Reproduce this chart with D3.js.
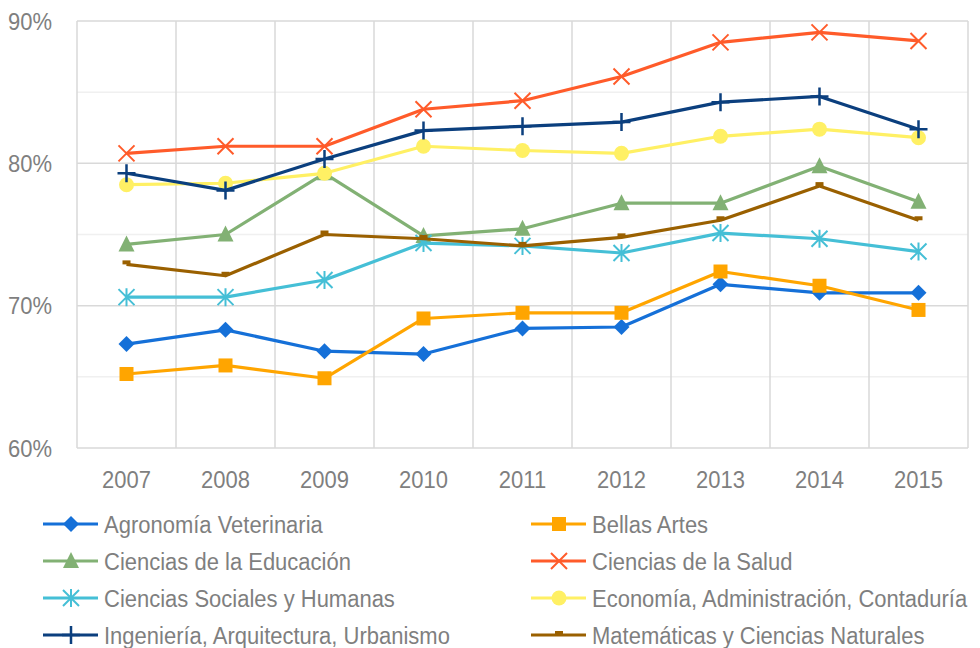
<!DOCTYPE html>
<html>
<head>
<meta charset="utf-8">
<script src="https://cdn.jsdelivr.net/npm/d3@7"></script>
<style>
  body { margin: 0; background: #fff; }
  text { font-family: "Liberation Sans", Arial, sans-serif; fill: #7f7f7f; }
</style>
</head>
<body>
<div id="chart"></div>
<script>
// years on the x axis
var years = ["2007", "2008", "2009", "2010", "2011", "2012", "2013", "2014", "2015"];

// one array per faculty (share, %)
var agronomia   = [67.3, 68.3, 66.8, 66.6, 68.4, 68.5, 71.5, 70.9, 70.9];
var bellasArtes = [65.2, 65.8, 64.9, 69.1, 69.5, 69.5, 72.4, 71.4, 69.7];
var educacion   = [74.3, 75.0, 79.3, 74.9, 75.4, 77.2, 77.2, 79.8, 77.3];
var salud       = [80.7, 81.2, 81.2, 83.8, 84.4, 86.1, 88.5, 89.2, 88.6];
var sociales    = [70.6, 70.6, 71.8, 74.4, 74.2, 73.7, 75.1, 74.7, 73.8];
var economia    = [78.5, 78.6, 79.3, 81.2, 80.9, 80.7, 81.9, 82.4, 81.8];
var ingenieria  = [79.3, 78.1, 80.3, 82.3, 82.6, 82.9, 84.3, 84.7, 82.4];
var matematicas = [72.9, 72.1, 75.0, 74.7, 74.2, 74.8, 76.0, 78.4, 76.0];

var seriesNames = ["Agronomía Veterinaria", "Bellas Artes", "Ciencias de la Educación", "Ciencias de la Salud",
  "Ciencias Sociales y Humanas", "Economía, Administración, Contaduría", "Ingeniería, Arquitectura, Urbanismo",
  "Matemáticas y Ciencias Naturales"];
var seriesValues = [agronomia, bellasArtes, educacion, salud, sociales, economia, ingenieria, matematicas];
var seriesColors = ["#1570d8", "#ffa500", "#82b174", "#ff5b2a", "#45bfd6", "#fff064", "#0b3f7e", "#9a6000"];
var seriesMarkers = ["diamond", "square", "triangle", "x", "star", "circle", "plus", "dash"];

var yTicks = [60, 70, 80, 90];
var yMinor = [65, 75, 85];

var width = 980, height = 648;
var plotLeft = 77, plotRight = 968, plotTop = 21, plotBottom = 448;

var svg = d3.select("#chart").append("svg")
  .attr("width", width)
  .attr("height", height);

var x = d3.scaleBand().domain(years).range([plotLeft, plotRight]);
var y = d3.scaleLinear().domain([60, 90]).range([plotBottom, plotTop]);

//Gridlines: minor first, then major and the category separators.
svg.append("g").selectAll("line").data(yMinor).enter().append("line")
  .attr("x1", plotLeft).attr("x2", plotRight)
  .attr("y1", function(d) { return y(d); }).attr("y2", function(d) { return y(d); })
  .attr("stroke", "#f0f0f0").attr("stroke-width", 1.5);

var sep = d3.range(years.length + 1).map(function(i) { return plotLeft + i * x.step(); });
svg.append("g").selectAll("line").data(sep).enter().append("line")
  .attr("x1", function(d) { return d; }).attr("x2", function(d) { return d; })
  .attr("y1", plotTop).attr("y2", plotBottom)
  .attr("stroke", "#d9d9d9").attr("stroke-width", 1.5);

svg.append("g").selectAll("line").data(yTicks).enter().append("line")
  .attr("x1", plotLeft).attr("x2", plotRight)
  .attr("y1", function(d) { return y(d); }).attr("y2", function(d) { return y(d); })
  .attr("stroke", "#d9d9d9").attr("stroke-width", 1.5);

//Text is slightly taller than wide in the original, so stretch it a bit.
function label(g, tx, ty, str, anchor) {
  return g.append("text")
    .attr("transform", "translate(" + tx + "," + ty + ") scale(1,1.12)")
    .attr("dy", "0.35em").attr("text-anchor", anchor || "start")
    .style("font-size", "22px")
    .text(str);
}

//Axis labels.
var yLab = svg.append("g");
yTicks.forEach(function(d) { label(yLab, 52, y(d), d + "%", "end"); });

var xLab = svg.append("g");
years.forEach(function(d) { label(xLab, x(d) + x.bandwidth() / 2, 479, d, "middle"); });

//Draws one marker at (cx, cy).
function marker(g, type, color, cx, cy) {
  var m = g.append("g").attr("transform", "translate(" + cx + "," + cy + ")");
  if (type == "diamond") {
    m.append("path").attr("d", "M0,-8L8,0L0,8L-8,0Z").attr("fill", color);
  } else if (type == "square") {
    m.append("rect").attr("x", -7).attr("y", -7).attr("width", 14).attr("height", 14).attr("fill", color);
  } else if (type == "triangle") {
    m.append("path").attr("d", "M0,-9L8,7L-8,7Z").attr("fill", color);
  } else if (type == "circle") {
    m.append("circle").attr("r", 7.5).attr("fill", color);
  } else if (type == "x") {
    m.append("path").attr("d", "M-8,-8L8,8M-8,8L8,-8").attr("stroke", color).attr("stroke-width", 2);
  } else if (type == "star") {
    m.append("path").attr("d", "M-8,-8L8,8M-8,8L8,-8M0,-9L0,9").attr("stroke", color).attr("stroke-width", 2);
  } else if (type == "plus") {
    m.append("path").attr("d", "M-9,0L9,0M0,-9L0,9").attr("stroke", color).attr("stroke-width", 2.5);
  } else if (type == "dash") {
    m.append("rect").attr("x", -4).attr("y", -4).attr("width", 8).attr("height", 4).attr("fill", color);
  }
}

var line = d3.line()
  .x(function(d, i) { return x(years[i]) + x.bandwidth() / 2; })
  .y(function(d) { return y(d); });

seriesValues.forEach(function(vals, k) {
  var g = svg.append("g");
  g.append("path").datum(vals)
    .attr("d", line)
    .attr("fill", "none")
    .attr("stroke", seriesColors[k])
    .attr("stroke-width", 3.2)
    .attr("stroke-linejoin", "round");
  vals.forEach(function(v, i) {
    marker(g, seriesMarkers[k], seriesColors[k], x(years[i]) + x.bandwidth() / 2, y(v));
  });
});

//Legend in two columns.
var legend = svg.append("g");
seriesNames.forEach(function(name, k) {
  var col = k % 2, row = Math.floor(k / 2);
  var lx = col == 0 ? 43 : 531;
  var ly = 524 + row * 37;
  var g = legend.append("g");
  g.append("line").attr("x1", lx).attr("x2", lx + 55).attr("y1", ly).attr("y2", ly)
    .attr("stroke", seriesColors[k]).attr("stroke-width", 3.2);
  marker(g, seriesMarkers[k], seriesColors[k], lx + 28, ly);
  label(g, lx + 61, ly, name);
});
</script>
</body>
</html>
